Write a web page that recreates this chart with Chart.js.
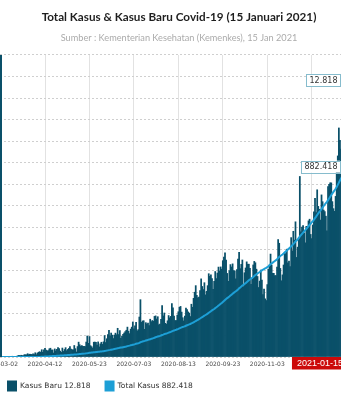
<!DOCTYPE html>
<html>
<head>
<meta charset="utf-8">
<script src="https://cdn.jsdelivr.net/npm/chart.js@4.4.1/dist/chart.umd.min.js"></script>
<style>
  html, body { margin: 0; padding: 0; background: #fff; overflow: hidden; width: 341px; height: 400px; }
  #wrap { position: relative; width: 358px; height: 400px; }
</style>
</head>
<body>
<div id="wrap"><canvas id="chart" width="358" height="400"></canvas></div>
<script>
// Daily new cases (Kasus Baru), 2 March 2020 – 15 January 2021
const baruMar = [2,0,0,0,2,0,2,13,8,7,0,35,27,21,17,38,55,82,60,81,64,65,107,104,103,153,109,130,129,114];
const baruApr = [149,113,196,106,181,218,247,218,337,219,330,399,316,282,297,380,407,325,327,185,375,283,357,436,396,275,214,415,260,347];
const baruMay = [433,292,349,395,484,367,338,336,533,387,233,484,689,568,490,529,489,496,486,693,973,634,949,526,479,415,686,687,678,557,700];
const baruJun = [467,609,684,585,703,993,672,847,1043,1241,979,1111,1014,857,1017,1106,1031,1331,1041,1226,862,954,1051,1113,1178,1240,1385,1198,1082,1293];
const baruJul = [1385,1624,1301,1447,1607,1209,1268,1853,2657,1611,1671,1681,1282,1591,1522,1574,1462,1752,1639,1693,1655,1882,1906,1761,1868,1492,1525,1748,2381,1904,2040];
const baruAug = [1560,1519,1679,1922,1815,1882,2473,2277,1893,1687,1693,1942,2098,2307,2345,2081,1821,1673,1902,2266,2197,2090,2037,1877,2447,2306,2719,3003,3308,2858,2743];
const baruSep = [2775,3075,3622,3269,3128,3444,2880,3046,3307,3861,3737,3806,3636,3141,3507,3963,3635,3891,4168,3989,4176,4071,4465,4634,4823,4494,3874,3509,4002,4284];
const baruOct = [4174,4317,4007,3992,3622,4056,4538,4850,4094,4294,4497,3267,3906,4127,4411,4301,4301,4105,3373,3602,4267,4432,4369,4070,3732,3222,3520,4029,3565,2897,3143];
const baruNov = [2696,2618,3356,4065,4262,4771,4262,3880,3880,3779,3770,4173,5444,5272,4106,3535,3807,4265,4798,4792,4998,4360,4442,4192,5534,4917,5828,5418,6267,4617];
const baruDec = [5092,5533,8369,5803,6027,6089,5754,5292,6058,6033,6310,6388,5681,5489,6120,6725,7354,6689,7751,6982,6848,6347,7514,7199,6808,6740,6528,5854,7903,8002,8074];
const baruJan = [8072,7203,6877,6753,7445,8854,9321,10617,10046,9640,8692,10047,11278,11557,12818];

const kasusBaru = [].concat(baruMar, baruApr, baruMay, baruJun, baruJul, baruAug, baruSep, baruOct, baruNov, baruDec, baruJan);

// Cumulative total reported on the last day
const totalAkhir = 882418;

// Dates shown on the x axis
const tickLabels = ['2020-03-02','2020-04-12','2020-05-23','2020-07-03','2020-08-13','2020-09-23','2020-11-03','2020-12-14'];

// One category per day starting 2 March 2020
const dates = kasusBaru.map((_, i) => {
  const d = new Date(Date.UTC(2020, 2, 2 + i));
  return d.toISOString().slice(0, 10);
});

// Running total, counted back from the reported final total
const totalKasus = new Array(kasusBaru.length);
let running = totalAkhir;
for (let i = kasusBaru.length - 1; i >= 0; i--) {
  totalKasus[i] = Math.max(0, running);
  running -= kasusBaru[i];
}

const fmt = n => String(n).replace(/\B(?=(\d{3})+(?!\d))/g, '.');

const BAR_COLOR = '#0a5069';
const LINE_COLOR = '#1d9fd6';

// Dark rule along the left edge of the plot
const leftEdge = {
  id: 'leftEdge',
  afterDatasetsDraw(chart) {
    const { ctx, chartArea: a } = chart;
    ctx.save();
    ctx.fillStyle = BAR_COLOR;
    ctx.fillRect(a.left, a.top, 2, a.bottom - a.top);
    ctx.restore();
  }
};

// Value tags for the latest day plus the highlighted date on the axis
const latestTags = {
  id: 'latestTags',
  afterDraw(chart) {
    const { ctx, chartArea: a, scales } = chart;
    const last = dates.length - 1;
    ctx.save();
    // date tag
    ctx.font = '9px "Liberation Sans", Arial, sans-serif';
    const dText = dates[last];
    const dw = ctx.measureText(dText).width + 10;
    const cx = scales.x.getPixelForValue(last);
    let left = cx - dw / 2;
    if (left + dw > a.right + 1) left = a.right + 1 - dw;
    ctx.fillStyle = '#cc0a0a';
    ctx.fillRect(left, a.bottom, dw, 12.5);
    ctx.fillStyle = '#fff';
    ctx.textBaseline = 'middle';
    ctx.textAlign = 'left';
    ctx.fillText(dText, left + 5, a.bottom + 6.5);

    // value tags
    ctx.font = '8px "DejaVu Sans", sans-serif';
    const tags = [
      { text: fmt(kasusBaru[last]), y: scales.y.getPixelForValue(kasusBaru[last]) },
      { text: fmt(totalKasus[last]), y: scales.y1.getPixelForValue(totalKasus[last]) }
    ];
    tags.forEach(t => {
      const w = ctx.measureText(t.text).width + 6;
      const h = 12;
      const r = a.right - 7;
      ctx.fillStyle = '#fff';
      ctx.fillRect(r - w, t.y - h / 2, w, h);
      ctx.strokeStyle = '#86bccd';
      ctx.lineWidth = 1;
      ctx.strokeRect(Math.round(r - w) + 0.5, Math.round(t.y - h / 2) + 0.5, Math.round(w), h);
      ctx.fillStyle = '#333';
      ctx.textAlign = 'center';
      ctx.fillText(t.text, r - w / 2 + 0.5, t.y + 0.5);
    });
    ctx.restore();
  }
};

// Legend row under the axis
const legendRow = {
  id: 'legendRow',
  afterDraw(chart) {
    const { ctx, chartArea: a } = chart;
    const last = dates.length - 1;
    const items = [
      { color: BAR_COLOR, text: 'Kasus Baru ' + fmt(kasusBaru[last]) },
      { color: LINE_COLOR, text: 'Total Kasus ' + fmt(totalKasus[last]) }
    ];
    const yc = a.bottom + 29;
    let x = 7;
    ctx.save();
    ctx.font = '7.5px "DejaVu Sans", sans-serif';
    ctx.textBaseline = 'middle';
    ctx.textAlign = 'left';
    items.forEach(it => {
      ctx.fillStyle = it.color;
      ctx.fillRect(x, yc - 5.5, 10, 11);
      ctx.fillStyle = '#333';
      ctx.fillText(it.text, x + 13, yc);
      x += 13 + ctx.measureText(it.text).width + 14;
    });
    ctx.restore();
  }
};

new Chart(document.getElementById('chart'), {
  data: {
    labels: dates,
    datasets: [
      {
        type: 'line',
        label: 'Total Kasus',
        data: totalKasus,
        yAxisID: 'y1',
        borderColor: LINE_COLOR,
        borderWidth: 2,
        pointRadius: 0,
        tension: 0,
        order: 0
      },
      {
        type: 'bar',
        label: 'Kasus Baru',
        data: kasusBaru,
        yAxisID: 'y',
        backgroundColor: BAR_COLOR,
        borderWidth: 0,
        barPercentage: 1,
        categoryPercentage: 1,
        order: 1
      }
    ]
  },
  options: {
    responsive: false,
    animation: false,
    devicePixelRatio: 1,
    layout: { padding: { left: 0, right: 0, top: 0, bottom: 27.8 } },
    plugins: {
      legend: { display: false },
      tooltip: { enabled: false },
      title: {
        display: true,
        text: 'Total Kasus & Kasus Baru Covid-19 (15 Januari 2021)',
        color: '#1e1e1e',
        font: { family: 'Lato', weight: 'bold', size: 11.7 },
        padding: { top: 10, bottom: 8.7 }
      },
      subtitle: {
        display: true,
        text: 'Sumber : Kementerian Kesehatan (Kemenkes), 15 Jan 2021',
        color: '#ababab',
        font: { family: 'Lato', size: 9.2 },
        padding: { top: 0, bottom: 11.2 }
      }
    },
    scales: {
      x: {
        type: 'category',
        offset: true,
        grid: {
          offset: false,
          drawTicks: false,
          color: '#e2e2e2',
          lineWidth: 1
        },
        border: { display: false },
        ticks: {
          autoSkip: false,
          maxRotation: 0,
          minRotation: 0,
          padding: 4,
          color: '#4a4a4a',
          font: { family: 'DejaVu Sans', size: 6 },
          callback(value) {
            const lbl = this.getLabelForValue(value);
            return tickLabels.includes(lbl) ? lbl : null;
          }
        },
        afterFit(scale) {
          // let the end labels run past the plot edges; keep a small gap on the right
          scale.paddingLeft = 0;
          scale.paddingRight = 11;
        }
      },
      y: {
        position: 'left',
        min: 0,
        max: 14000,
        ticks: { display: false, stepSize: 1000 },
        grid: { drawTicks: false, color: '#cfcfcf', lineWidth: 1 },
        border: { display: false, dash: [2, 2] }
      },
      y1: {
        position: 'right',
        display: false,
        min: 0,
        max: 1400000,
        grid: { display: false }
      }
    }
  },
  plugins: [leftEdge, latestTags, legendRow]
});
</script>
</body>
</html>
